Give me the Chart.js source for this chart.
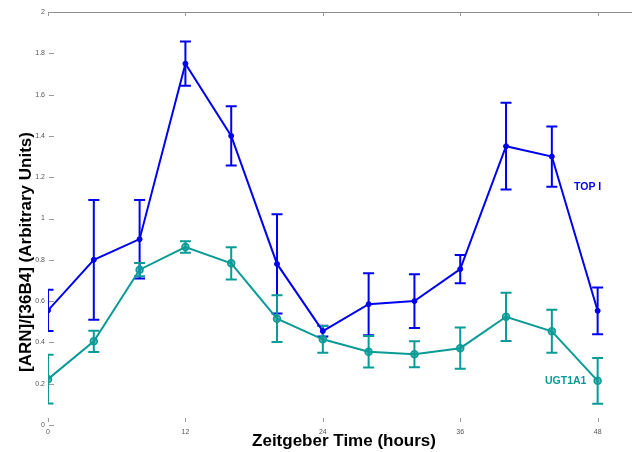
<!DOCTYPE html>
<html>
<head>
<meta charset="utf-8">
<script src="https://cdn.jsdelivr.net/npm/chart.js@4.4.1/dist/chart.umd.min.js"></script>
<style>
    html, body { margin: 0; padding: 0; background: #fff; }
    #wrap { width: 632px; height: 452px; }
</style>
</head>
<body>
<div id="wrap"><canvas id="chart"></canvas></div>
<script>
// ===============================
// DATA
// ===============================
const hours = [0, 4, 8, 12, 16, 20, 24, 28, 32, 36, 40, 44, 48];

const topI    = [0.555, 0.80, 0.90, 1.75, 1.40, 0.78, 0.455, 0.585, 0.60, 0.755, 1.35, 1.30, 0.553];
const topIErr = [0.10, 0.29, 0.19, 0.107, 0.143, 0.24, 0.026, 0.15, 0.13, 0.068, 0.21, 0.146, 0.113];

const ugt1a1    = [0.222, 0.405, 0.752, 0.862, 0.783, 0.515, 0.415, 0.355, 0.343, 0.372, 0.524, 0.454, 0.214];
const ugt1a1Err = [0.118, 0.051, 0.032, 0.028, 0.078, 0.113, 0.065, 0.076, 0.063, 0.10, 0.117, 0.104, 0.111];

const xTicks = [0, 12, 24, 36, 48];
const yTickLabels = ["0", "0.2", "0.4", "0.6", "0.8", "1", "1.2", "1.4", "1.6", "1.8", "2"];

const BLUE = "#0000f0";
const TEAL = "#0a9b96";

// ===============================
// ERROR BARS + FRAME + TITLES
// ===============================
const errorBars = {
    id: "errorBars",
    beforeDatasetsDraw(chart) {
        const { ctx, chartArea, scales } = chart;
        const xs = scales.x, ys = scales.y;
        ctx.save();
        ctx.beginPath();
        ctx.rect(chartArea.left, chartArea.top, chartArea.right - chartArea.left, chartArea.bottom - chartArea.top);
        ctx.clip();
        chart.data.datasets.forEach(ds => {
            ctx.strokeStyle = ds.borderColor;
            ctx.lineWidth = 2;
            ds.data.forEach((p, i) => {
                const e = ds.errors[i];
                const px = xs.getPixelForValue(p.x);
                const yt = ys.getPixelForValue(p.y + e);
                const yb = ys.getPixelForValue(p.y - e);
                ctx.beginPath();
                ctx.moveTo(px, yt); ctx.lineTo(px, yb);
                ctx.moveTo(px - 5.5, yt); ctx.lineTo(px + 5.5, yt);
                ctx.moveTo(px - 5.5, yb); ctx.lineTo(px + 5.5, yb);
                ctx.stroke();
            });
        });
        ctx.restore();
    },
    afterDraw(chart) {
        const { ctx, chartArea, scales } = chart;
        ctx.save();

        // top frame line
        ctx.strokeStyle = "#8a8a8a";
        ctx.lineWidth = 1;
        ctx.beginPath();
        ctx.moveTo(chartArea.left, chartArea.top + 0.5);
        ctx.lineTo(chartArea.right, chartArea.top + 0.5);
        ctx.stroke();

        // small inward ticks
        ctx.strokeStyle = "#9a9a9a";
        xTicks.forEach(v => {
            const px = Math.round(scales.x.getPixelForValue(v)) + 0.5;
            ctx.beginPath();
            ctx.moveTo(px, chartArea.top); ctx.lineTo(px, chartArea.top + 4);
            ctx.moveTo(px, chartArea.bottom - 7); ctx.lineTo(px, chartArea.bottom - 3);
            ctx.stroke();
        });
        yTickLabels.forEach((t, i) => {
            const py = Math.round(scales.y.getPixelForValue(i * 0.2)) + 0.5;
            ctx.beginPath();
            ctx.moveTo(chartArea.left + 1, py); ctx.lineTo(chartArea.left + 6, py);
            ctx.stroke();
        });

        // axis titles
        ctx.fillStyle = "#000";
        ctx.font = "bold 17px 'Liberation Sans', Arial, sans-serif";
        ctx.textAlign = "center";
        ctx.textBaseline = "middle";
        ctx.fillText("Zeitgeber Time (hours)", 344, 441);

        ctx.translate(26, 252);
        ctx.rotate(-Math.PI / 2);
        ctx.fillText("[ARN]/[36B4] (Arbitrary Units)", 0, 0);
        ctx.setTransform(1, 0, 0, 1, 0, 0);

        // series labels
        ctx.font = "bold 10.5px 'Liberation Sans', Arial, sans-serif";
        ctx.textAlign = "left";
        ctx.fillStyle = BLUE;
        ctx.fillText("TOP I", 574, 187);
        ctx.fillStyle = TEAL;
        ctx.fillText("UGT1A1", 545, 381);

        ctx.restore();
    }
};

// ===============================
// CHART
// ===============================
const ctx = document.getElementById("chart");

new Chart(ctx, {
    type: "line",
    data: {
        datasets: [
            {
                label: "TOP I",
                data: hours.map((h, i) => ({ x: h, y: topI[i] })),
                errors: topIErr,
                borderColor: BLUE,
                backgroundColor: BLUE,
                borderWidth: 2,
                pointRadius: 2.5,
                pointBorderWidth: 1,
                tension: 0
            },
            {
                label: "UGT1A1",
                data: hours.map((h, i) => ({ x: h, y: ugt1a1[i] })),
                errors: ugt1a1Err,
                borderColor: TEAL,
                backgroundColor: "rgba(10,155,150,0.7)",
                borderWidth: 2,
                pointRadius: 3.5,
                pointBorderWidth: 1.5,
                tension: 0
            }
        ]
    },
    options: {
        responsive: true,
        maintainAspectRatio: false,
        animation: false,
        layout: {
            autoPadding: false,
            padding: { top: 12, right: 0, bottom: 0, left: 0 }
        },
        plugins: {
            legend: { display: false },
            tooltip: { enabled: false }
        },
        scales: {
            x: {
                type: "linear",
                min: 0,
                max: 51,
                grid: { display: false, drawTicks: false },
                border: { display: false },
                afterBuildTicks: scale => {
                    scale.ticks = xTicks.map(v => ({ value: v }));
                },
                afterFit: scale => {
                    scale.height = 27;
                    scale.paddingLeft = 0;
                    scale.paddingRight = 0;
                },
                ticks: {
                    color: "#555",
                    font: { size: 7, family: "'Liberation Sans', Arial, sans-serif" },
                    padding: 3,
                    maxRotation: 0,
                    callback: v => String(v)
                }
            },
            y: {
                min: 0,
                max: 2,
                grid: { display: false, drawTicks: false },
                border: { display: false },
                afterBuildTicks: scale => {
                    scale.ticks = yTickLabels.map((t, i) => ({ value: i * 0.2 }));
                },
                afterFit: scale => {
                    scale.width = 48;
                    scale.paddingTop = 0;
                    scale.paddingBottom = 0;
                },
                ticks: {
                    color: "#555",
                    font: { size: 7, family: "'Liberation Sans', Arial, sans-serif" },
                    padding: 3,
                    callback: (v, i) => yTickLabels[i]
                }
            }
        }
    },
    plugins: [errorBars]
});
</script>
</body>
</html>
